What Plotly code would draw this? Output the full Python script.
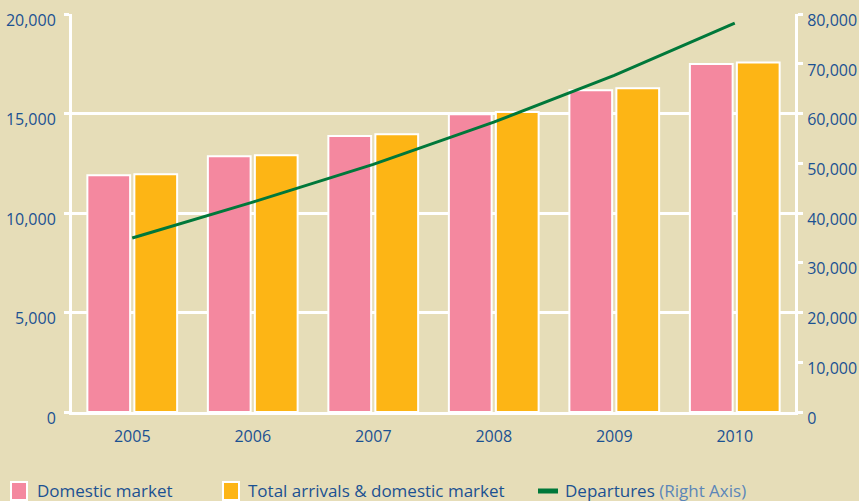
import plotly.graph_objects as go

years = ["2005", "2006", "2007", "2008", "2009", "2010"]
domestic = [11900, 12860, 13870, 14970, 16180, 17490]
total_arrivals = [11950, 12910, 13970, 15080, 16280, 17570]
departures = [35000, 42200, 49800, 58300, 67700, 78200]

BG = "#E6DDB8"
PINK = "#F4889F"
ORANGE = "#FDB515"
GREEN = "#00783A"
BLUE = "#1B5192"
LBLUE = "#5B86B8"
FONT = "Open Sans"

W, H = 859, 501
L, R, T, B = 72, 64, 14, 89
PW, PH = W - L - R, H - T - B

def px(x):
    return (x - L) / PW

def py(y):
    return (H - B - y) / PH

fig = go.Figure()
fig.add_trace(go.Bar(x=years, y=domestic, name="Domestic market",
                     marker=dict(color=PINK, line=dict(color="white", width=2))))
fig.add_trace(go.Bar(x=years, y=total_arrivals, name="Total arrivals & domestic market",
                     marker=dict(color=ORANGE, line=dict(color="white", width=2))))
fig.add_trace(go.Scatter(x=years, y=departures, name="Departures", yaxis="y2",
                         mode="lines", line=dict(color=GREEN, width=3)))

fig.update_layout(
    width=W, height=H,
    margin=dict(l=L, r=R, t=T, b=B),
    paper_bgcolor=BG, plot_bgcolor=BG,
    barmode="group", bargap=0.22, bargroupgap=0.09,
    showlegend=False,
    font=dict(family=FONT, size=16, color=BLUE),
    xaxis=dict(type="category", showgrid=False, showline=True, linecolor="white",
               linewidth=3, ticks="", tickfont=dict(size=16, color=BLUE),
               range=[-0.5, 5.5], ticklabelstandoff=8, automargin=False),
    yaxis=dict(range=[0, 20010], tickvals=[0, 5000, 10000, 15000, 20000],
               tickformat=",", showgrid=True,
               gridcolor="white", gridwidth=3, showline=True, linecolor="white",
               linewidth=3, ticks="outside", ticklen=5, tickwidth=3, tickcolor="white",
               zeroline=False, tickfont=dict(size=16, color=BLUE),
               ticklabelshift=6, ticklabelstandoff=5, automargin=False),
    yaxis2=dict(range=[0, 80040], tickvals=list(range(0, 80001, 10000)),
                tickformat=",", overlaying="y",
                side="right", showgrid=False, showline=True, linecolor="white",
                linewidth=3, ticks="outside", ticklen=5, tickwidth=3, tickcolor="white",
                zeroline=False, tickfont=dict(size=16, color=BLUE),
                ticklabelshift=6, ticklabelstandoff=1, automargin=False),
)

# manual legend
shapes = [
    dict(type="rect", xref="paper", yref="paper", x0=px(11), x1=px(27), y0=py(500), y1=py(482),
         fillcolor=PINK, line=dict(color="white", width=2)),
    dict(type="rect", xref="paper", yref="paper", x0=px(223), x1=px(239), y0=py(500), y1=py(482),
         fillcolor=ORANGE, line=dict(color="white", width=2)),
    dict(type="line", xref="paper", yref="paper", x0=px(538), x1=px(558), y0=py(491), y1=py(491),
         line=dict(color=GREEN, width=5)),
]
ann = [
    dict(text="Domestic market", x=px(35)),
    dict(text="Total arrivals & domestic market", x=px(246)),
    dict(text="Departures <span style='color:%s'>(Right Axis)</span>" % LBLUE, x=px(563)),
]
fig.update_layout(shapes=shapes, annotations=[
    dict(a, y=py(490), xref="paper", yref="paper", xanchor="left", yanchor="middle",
         showarrow=False, font=dict(family=FONT, size=17, color=BLUE)) for a in ann])

fig.write_html("out.html")
